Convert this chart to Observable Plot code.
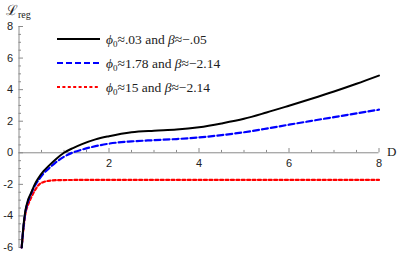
<!DOCTYPE html>
<html>
<head>
<meta charset="utf-8">
<script src="https://cdn.jsdelivr.net/npm/d3@7"></script>
<script src="https://cdn.jsdelivr.net/npm/@observablehq/plot@0.6"></script>
<style>
  html, body { margin: 0; padding: 0; background: #fff; }
</style>
</head>
<body>
<div id="chart"></div>
<script>
// ---- data ----
const dBlack = [0.06, 0.1, 0.14, 0.2, 0.26, 0.35, 0.44, 0.55, 0.66, 0.8, 1.0, 1.2, 1.4, 1.7, 2.0, 2.5, 3.0, 3.5, 4.0, 4.5, 5.0, 5.5, 6.0, 6.5, 7.0, 7.5, 8.0];
const lBlack = [-6, -4.6, -3.7, -3.0, -2.6, -2.0, -1.57, -1.15, -0.83, -0.45, 0, 0.3, 0.55, 0.85, 1.05, 1.3, 1.4, 1.47, 1.62, 1.86, 2.15, 2.55, 2.98, 3.42, 3.88, 4.37, 4.89];

const dBlue = [0.06, 0.1, 0.14, 0.2, 0.26, 0.35, 0.44, 0.55, 0.66, 0.8, 1.0, 1.18, 1.4, 1.7, 2.0, 2.5, 3.0, 3.5, 4.0, 4.5, 5.0, 5.5, 6.0, 6.5, 7.0, 7.5, 8.0];
const lBlue = [-6, -4.7, -3.8, -3.1, -2.65, -2.1, -1.7, -1.3, -1.0, -0.65, -0.25, 0, 0.2, 0.42, 0.58, 0.72, 0.8, 0.87, 0.97, 1.12, 1.3, 1.53, 1.78, 2.02, 2.26, 2.5, 2.73];

const dRed = [0.06, 0.1, 0.14, 0.2, 0.26, 0.37, 0.45, 0.55, 0.7, 0.9, 1.5, 3.0, 5.0, 8.0];
const lRed = [-6, -4.8, -3.9, -3.3, -2.9, -2.3, -2.0, -1.85, -1.76, -1.73, -1.72, -1.72, -1.72, -1.72];

const xMajorTicks = [2, 4, 6, 8];
const xMinorTicks = [0.5, 1, 1.5, 2.5, 3, 3.5, 4.5, 5, 5.5, 6.5, 7, 7.5];
const yMajorTicks = [-6, -4, -2, 0, 2, 4, 6, 8];
const yMinorTicks = [-5.5, -5, -4.5, -3.5, -3, -2.5, -1.5, -1, -0.5, 0.5, 1, 1.5, 2.5, 3, 3.5, 4.5, 5, 5.5, 6.5, 7, 7.5];

const seriesNames = ["ϕ0≈.03 and β≈−.05", "ϕ0≈1.78 and β≈−2.14", "ϕ0≈15 and β≈−2.14"];
const legendParts = [[".03", "−.05"], ["1.78", "−2.14"], ["15", "−2.14"]];

const toRows = (ds, ls) => ds.map((d, i) => ({D: d, L: ls[i]}));
const black = toRows(dBlack, lBlack);
const blue = toRows(dBlue, lBlue);
const red = toRows(dRed, lRed);

const axisColor = "#8a8a8a";

const plot = Plot.plot({
  width: 399,
  height: 256,
  marginLeft: 18.5,
  marginRight: 20.5,
  marginTop: 26,
  marginBottom: 9,
  x: {domain: [0, 8], axis: null},
  y: {domain: [-6, 8], axis: null},
  style: {fontFamily: "'Liberation Sans', Arial, sans-serif", fontSize: "11px", background: "#fff", overflow: "visible"},
  marks: [
    Plot.ruleY([0], {x1: 0, x2: 8, stroke: axisColor, strokeWidth: 1}),
    Plot.ruleX([0], {y1: -6, y2: 8, stroke: axisColor, strokeWidth: 1}),
    Plot.ruleX(xMajorTicks, {x: d => d, y1: 0, y2: 0.27, stroke: axisColor}),
    Plot.ruleX(xMinorTicks, {x: d => d, y1: 0, y2: 0.15, stroke: axisColor}),
    Plot.ruleY(yMajorTicks, {y: d => d, x1: 0, x2: 0.1, stroke: axisColor}),
    Plot.ruleY(yMinorTicks, {y: d => d, x1: 0, x2: 0.055, stroke: axisColor}),
    Plot.text(xMajorTicks, {x: d => d, y: 0, dy: 11, text: d => String(d), fill: "#222"}),
    Plot.text(yMajorTicks, {x: 0, y: d => d, dx: -6, textAnchor: "end", text: d => String(d), fill: "#222"}),
    Plot.line(red, {x: "D", y: "L", stroke: "#ff0000", strokeWidth: 2.2, strokeDasharray: "3,2.4", curve: "monotone-x"}),
    Plot.line(blue, {x: "D", y: "L", stroke: "#0000ff", strokeWidth: 2.2, strokeDasharray: "6,3", curve: "monotone-x"}),
    Plot.line(black, {x: "D", y: "L", stroke: "#000", strokeWidth: 2, curve: "monotone-x"})
  ]
});

document.getElementById("chart").appendChild(plot);

// ---- axis titles & legend ----
const svg = d3.select(plot);
const serif = "'Liberation Serif', 'Times New Roman', serif";

const ylab = svg.append("text").attr("x", 6).attr("y", 15).attr("text-anchor", "start")
  .attr("font-family", serif).attr("font-size", 14).attr("fill", "#222");
ylab.append("tspan").text("ℒ");
ylab.append("tspan").attr("font-size", 10).attr("dy", 3).text("reg");

svg.append("text").attr("x", 387).attr("y", 156).attr("text-anchor", "start")
  .attr("font-family", serif).attr("font-size", 13).attr("fill", "#222").text("D");

const styles = [
  {stroke: "#000", dash: null, w: 2},
  {stroke: "#0000ff", dash: "6,3", w: 2.2},
  {stroke: "#ff0000", dash: "3,2.4", w: 2.2}
];
const legendY = [39, 63, 87];
styles.forEach((s, i) => {
  const y = legendY[i];
  const ln = svg.append("line").attr("x1", 57).attr("x2", 100).attr("y1", y).attr("y2", y)
    .attr("stroke", s.stroke).attr("stroke-width", s.w);
  if (s.dash) ln.attr("stroke-dasharray", s.dash);
  const t = svg.append("text").attr("x", 106).attr("y", y + 4.5).attr("text-anchor", "start")
    .attr("font-family", serif).attr("font-size", 13.5).attr("fill", "#222");
  t.append("tspan").attr("font-style", "italic").text("ϕ");
  t.append("tspan").attr("font-size", 9).attr("dy", 3).text("0");
  t.append("tspan").attr("dy", -3).text("≈" + legendParts[i][0] + " and ");
  t.append("tspan").attr("font-style", "italic").text("β");
  t.append("tspan").text("≈" + legendParts[i][1]);
});
</script>
</body>
</html>
